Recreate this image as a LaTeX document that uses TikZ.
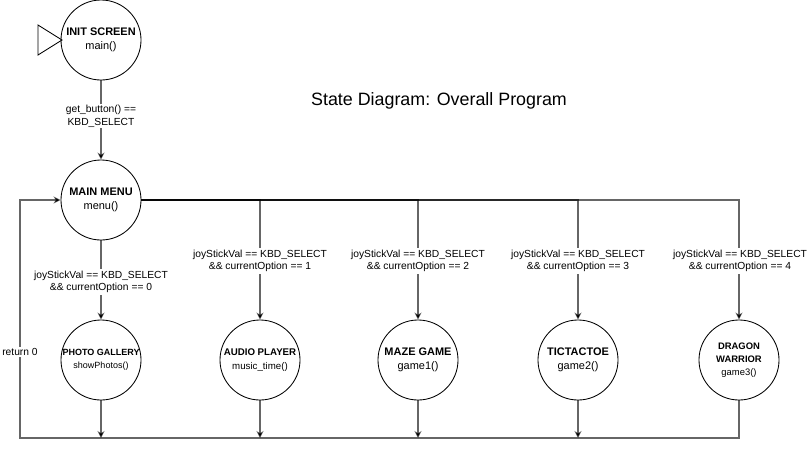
\documentclass[tikz,border=0pt]{standalone}
\usepackage{fontspec}
\setmainfont{Liberation Sans}
\usetikzlibrary{arrows.meta,positioning}

\begin{document}
\begin{tikzpicture}[x=0.025cm, y=-0.025cm,
    state/.style={circle, draw, line width=0.6pt, minimum size=2cm, inner sep=0pt, align=center},
    edge/.style={draw=black, draw opacity=0.6, line width=1pt},
    guard/.style={fill=white, inner sep=1pt, align=center, font=\fontsize{7.3}{9}\selectfont},
    >={Stealth[length=5pt, width=5pt, inset=1.6pt]}]

    \useasboundingbox (0,0) rectangle (808,450);

    % start marker
    \draw[line width=0.6pt] (38,25) -- (62,40) -- (38,55) -- cycle;

    % states
    \node[state, font=\fontsize{7.8}{9.8}\selectfont] (init) at (101,40) {\textbf{INIT SCREEN}\\main()};
    \node[state, font=\fontsize{7.8}{9.8}\selectfont] (menu) at (101,200) {\textbf{MAIN MENU}\\menu()};

    \node[state, font=\fontsize{6.4}{9}\selectfont] (photo) at (101,360) {\textbf{PHOTO GALLERY}\\showPhotos()};
    \node[state, font=\fontsize{6.9}{9.4}\selectfont] (audio) at (260,360) {\textbf{AUDIO PLAYER}\\music\_time()};
    \node[state, font=\fontsize{7.8}{9.8}\selectfont] (maze) at (418,360) {\textbf{MAZE GAME}\\game1()};
    \node[state, font=\fontsize{7.8}{9.8}\selectfont] (ttt) at (578,360) {\textbf{TICTACTOE}\\game2()};
    \node[state, font=\fontsize{6.7}{9.4}\selectfont] (dragon) at (739,360) {\textbf{DRAGON}\\\textbf{WARRIOR}\\game3()};

    \node[font=\fontsize{12.7}{15}\selectfont] (title) at (439,101) {State Diagram: Overall Program};

    % points on the return line
    \coordinate (r0) at (101,438);
    \coordinate (r1) at (260,438);
    \coordinate (r2) at (418,438);
    \coordinate (r3) at (578,438);
    \coordinate (loop) at (20,438);

    % transitions
    \draw[edge,->] (init) -- (menu);
    \draw[edge,->] (menu) -- (photo);
    \draw[edge,->] (menu.east) -| (audio);
    \draw[edge,->] (menu.east) -| (maze);
    \draw[edge,->] (menu.east) -| (ttt);
    \draw[edge,->] (menu.east) -| (dragon);

    \draw[edge,->] (photo) -- (r0);
    \draw[edge,->] (audio) -- (r1);
    \draw[edge,->] (maze) -- (r2);
    \draw[edge,->] (ttt) -- (r3);
    \draw[edge,->] (dragon) |- (loop) |- (menu.west);

    % guards
    \node[guard] (g0) at (101,116) {get\_button() ==\\KBD\_SELECT};
    \node[guard] (g1) at (101,282) {joyStickVal == KBD\_SELECT\\\&\& currentOption == 0};
    \node[guard] (g2) at (260,261) {joyStickVal == KBD\_SELECT\\\&\& currentOption == 1};
    \node[guard] (g3) at (418,261) {joyStickVal == KBD\_SELECT\\\&\& currentOption == 2};
    \node[guard] (g4) at (578,261) {joyStickVal == KBD\_SELECT\\\&\& currentOption == 3};
    \node[guard] (g5) at (740,261) {joyStickVal == KBD\_SELECT\\\&\& currentOption == 4};
    \node[guard] (ret) at (20,352) {return 0};

\end{tikzpicture}
\end{document}
